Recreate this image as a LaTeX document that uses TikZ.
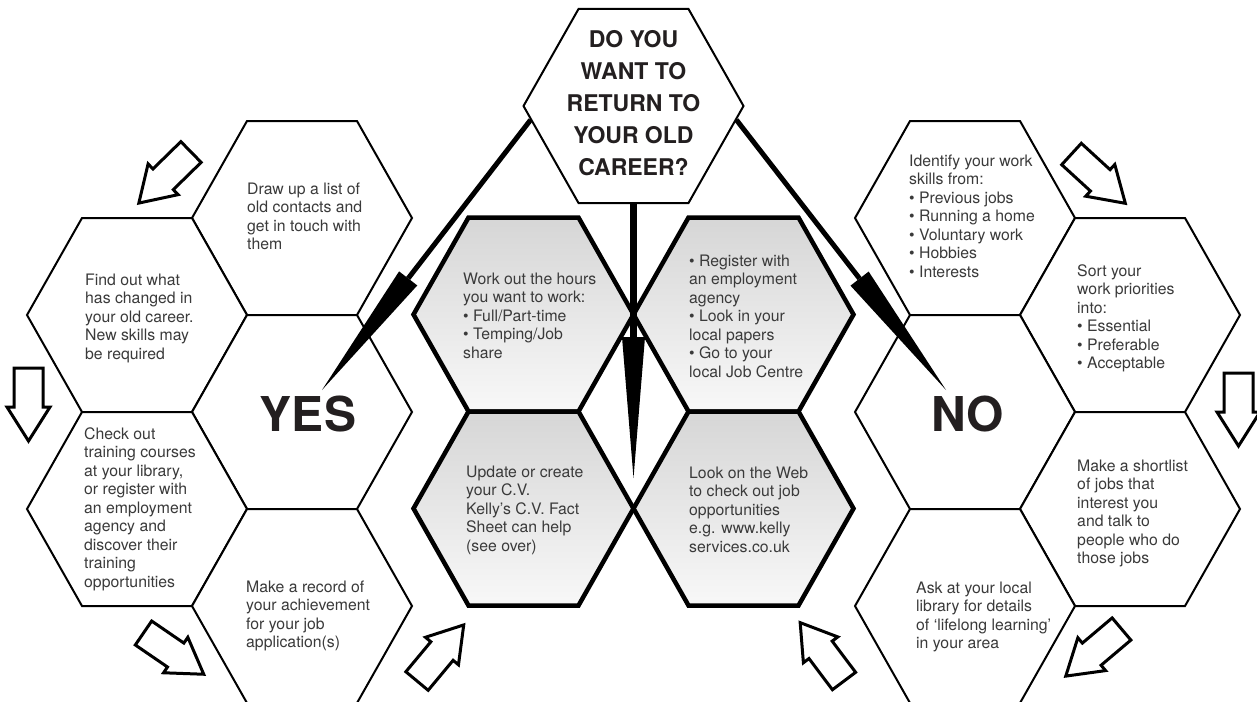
\documentclass[tikz,border=0pt]{standalone}
\usepackage{fontspec}
\setmainfont{TeX Gyre Heros}
\usetikzlibrary{calc}
\definecolor{txt}{HTML}{3A3A3A}
\definecolor{ttl}{HTML}{231F20}
\definecolor{hextop}{HTML}{D6D6D6}
\definecolor{hexbot}{HTML}{F8F8F8}
\tikzset{
  hexagon/.pic={\path[pic actions] (-110,0) -- (-55,-97) -- (55,-97) -- (110,0) -- (55,97) -- (-55,97) -- cycle;},
  blockarrow/.pic={\path[pic actions] (0,-14.5) -- (39,-14.5) -- (39,-21.5) -- (73,0) -- (39,21.5) -- (39,14.5) -- (0,14.5) -- cycle;},
  whitehex/.style={draw=black, line width=2pt, fill=white, line join=miter},
  grayhex/.style={draw=black, line width=4.5pt, top color=hextop, bottom color=hexbot, line join=miter},
  hollow/.style={draw=black, line width=3pt, fill=white, line join=miter},
  body/.style={font=\fontsize{15.8}{18.5}\selectfont, text=txt, align=left, inner sep=0pt, anchor=north west},
  bigword/.style={font=\bfseries\fontsize{48}{50}\selectfont, text=ttl, inner sep=0pt},
  shaft/.style={draw=black, line width=5pt},
  wedge/.style={fill=black, draw=none},
}
\begin{document}
\begin{tikzpicture}[x=1pt, y=-1pt]
\useasboundingbox (0,0) rectangle (1257,701);
\clip (0,0) rectangle (1257,701);
\fill[white] (0,0) rectangle (1257,701);

% hexagon centres
\coordinate (top) at (633.5,106);
\coordinate (drawup) at (302,218);
\coordinate (findout) at (137,315);
\coordinate (yes) at (302,412);
\coordinate (checkout) at (137,509);
\coordinate (record) at (302,606);
\coordinate (identify) at (965,218);
\coordinate (sort) at (1130,315);
\coordinate (no) at (965,412);
\coordinate (shortlist) at (1130,509);
\coordinate (ask) at (965,606);
\coordinate (hours) at (523.5,314.5);
\coordinate (register) at (743.5,314.5);
\coordinate (update) at (523.5,508.5);
\coordinate (web) at (743.5,508.5);

% white hexagons
\foreach \h in {top,drawup,findout,yes,checkout,record,identify,sort,no,shortlist,ask}
  \pic[whitehex] at (\h) {hexagon};
% grey hexagons
\foreach \h in {hours,register,update,web}
  \pic[grayhex] at (\h) {hexagon};

% texts
\node[font=\bfseries\fontsize{23}{32}\selectfont, text=ttl, align=center, inner sep=0pt, anchor=north]
  (qtext) at (633.5,29.8) {DO YOU\\WANT TO\\RETURN TO\\YOUR OLD\\CAREER?};
\node[bigword] (yestext) at (308,413.5) {YES};
\node[bigword] (notext) at (968,413.5) {NO};

\node[body] (t1) at (247,182.4) {Draw up a list of\\old contacts and\\get in touch with\\them};
\node[body] (t2) at (85,273.4) {Find out what\\has changed in\\your old career.\\New skills may\\be required};
\node[body] (t3) at (84,427.4) {Check out\\training courses\\at your library,\\or register with\\an employment\\agency and\\discover their\\training\\opportunities};
\node[body] (t4) at (246,580.4) {Make a record of\\your achievement\\for your job\\application(s)};
\node[body] (t6) at (463,272.4) {Work out the hours\\you want to work:\\• Full/Part-time\\• Temping/Job\\share};
\node[body] (t7) at (689,254.4) {• Register with\\an employment\\agency\\• Look in your\\local papers\\• Go to your\\local Job Centre};
\node[body] (t8) at (466,465.4) {Update or create\\your C.V.\\Kelly’s C.V. Fact\\Sheet can help\\(see over)};
\node[body] (t9) at (689,466.4) {Look on the Web\\to check out job\\opportunities\\e.g. www.kelly\\services.co.uk};
\node[body] (t10) at (909,154.4) {Identify your work\\skills from:\\• Previous jobs\\• Running a home\\• Voluntary work\\• Hobbies\\• Interests};
\node[body] (t11) at (1077,264.4) {Sort your\\work priorities\\into:\\• Essential\\• Preferable\\• Acceptable};
\node[body] (t13) at (1077,459.4) {Make a shortlist\\of jobs that\\interest you\\and talk to\\people who do\\those jobs};
\node[body] (t14) at (916,581.4) {Ask at your local\\library for details\\of ‘lifelong learning’\\in your area};

% big arrows from the question
\coordinate (sL) at ($(top)+(-103,14)$);
\coordinate (tipL) at (322,390);
\coordinate (bL) at ($(tipL)!141pt!(sL)$);
\draw[shaft] (sL) -- (bL);
\fill[wedge] ($(bL)!11.5pt!90:(tipL)$) -- (tipL) -- ($(bL)!11.5pt!-90:(tipL)$) -- cycle;

\coordinate (sR) at ($(top)+(103,14)$);
\coordinate (tipR) at (946,390);
\coordinate (bR) at ($(tipR)!141pt!(sR)$);
\draw[shaft] (sR) -- (bR);
\fill[wedge] ($(bR)!11.5pt!90:(tipR)$) -- (tipR) -- ($(bR)!11.5pt!-90:(tipR)$) -- cycle;

\coordinate (sM) at ($(top)+(0,97)$);
\coordinate (tipM) at (633.5,478);
\coordinate (bM) at ($(tipM)!141pt!(sM)$);
\draw[shaft, line width=7pt] (sM) -- (bM);
\fill[wedge] ($(bM)!11.5pt!90:(tipM)$) -- (tipM) -- ($(bM)!11.5pt!-90:(tipM)$) -- cycle;

% hollow flow arrows
\pic[hollow, rotate=224.4] at (191,152) {blockarrow};
\pic[hollow, rotate=-90] at (28.5,368) {blockarrow};
\pic[hollow, rotate=-34.4] at (143.5,633) {blockarrow};
\pic[hollow, rotate=50.2] at (417,681) {blockarrow};
\pic[hollow, rotate=126.9] at (844,681) {blockarrow};
\pic[hollow, rotate=-42.5] at (1071.5,154) {blockarrow};
\pic[hollow, rotate=-90] at (1238.5,373) {blockarrow};
\pic[hollow, rotate=220.2] at (1121.5,629) {blockarrow};
\end{tikzpicture}
\end{document}
